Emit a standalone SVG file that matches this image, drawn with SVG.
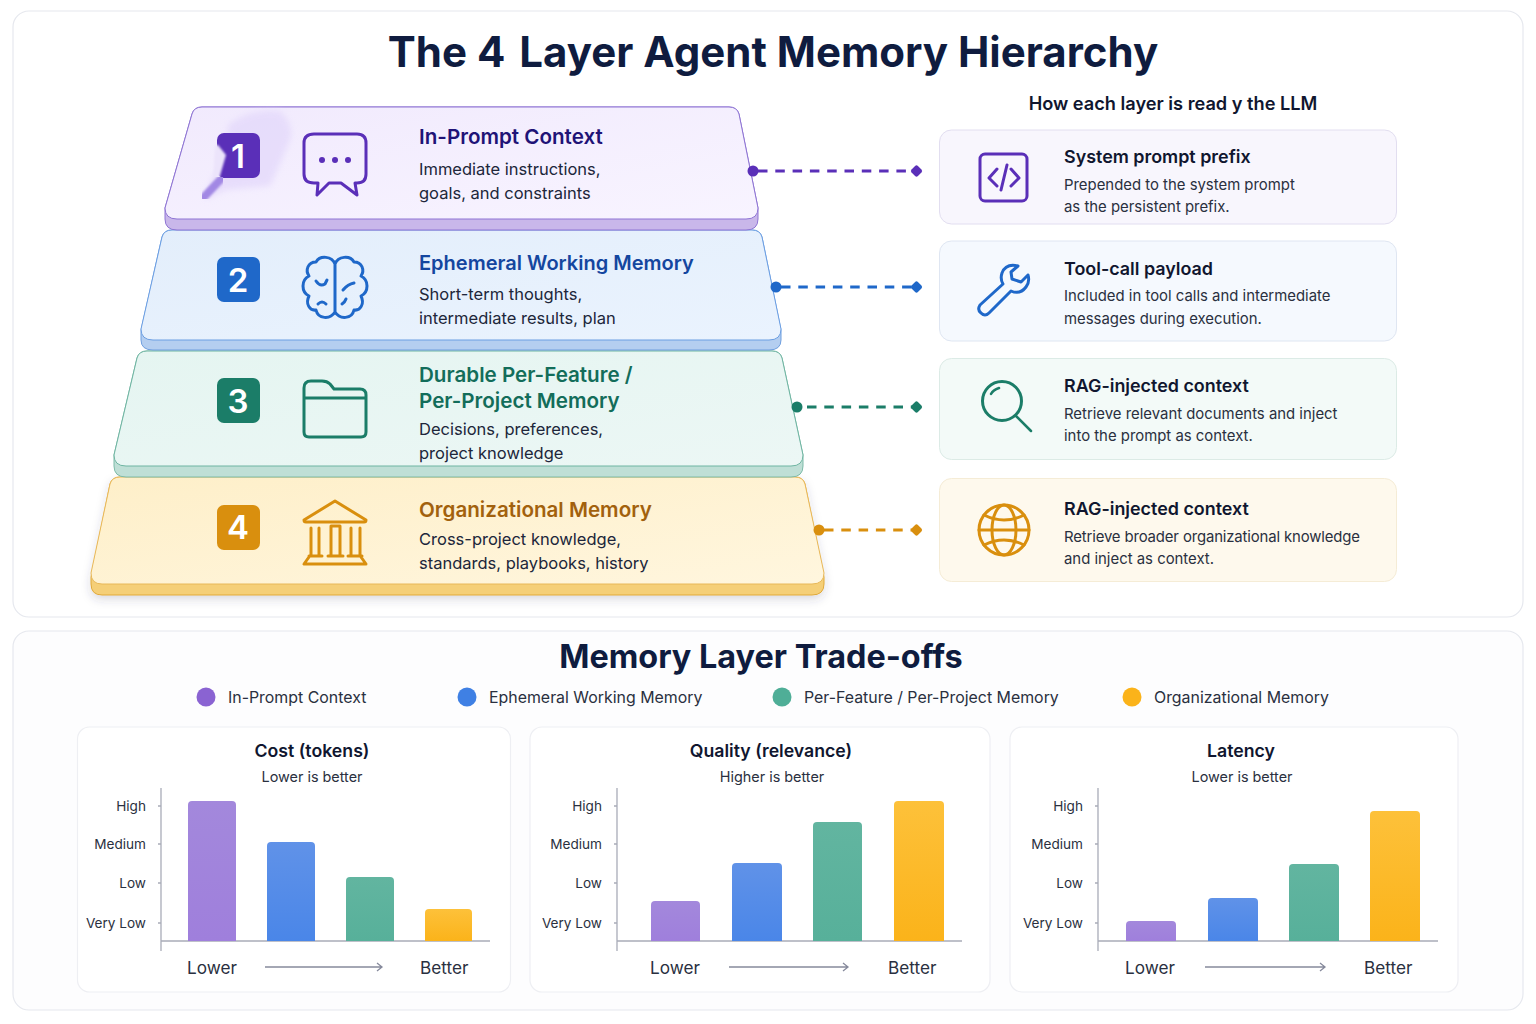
<svg xmlns="http://www.w3.org/2000/svg" width="1536" height="1024" viewBox="0 0 1536 1024">
<style>
text{font-family:Inter,"Liberation Sans",sans-serif}
.panel{fill:#fff;stroke:#e6e8ee;stroke-width:1.2}
.chart{fill:#fff;stroke:#eeeff3;stroke-width:1.2}
.h1{font-size:42px;font-weight:700;fill:#0f1c3f}
.h2{font-size:32.4px;font-weight:700;fill:#0f1c3f}
.rt{font-size:18.2px;font-weight:600;fill:#10162f}
.lt{font-size:20.6px;font-weight:600}
.ld{font-size:16.5px;fill:#20263a}
.ct{font-size:17.9px;font-weight:600;fill:#10162f}
.cd{font-size:14.9px;fill:#2a3040}
.leg{font-size:15.9px;fill:#2a3040}
.ctitle{font-size:17.7px;font-weight:600;fill:#10162f}
.sub{font-size:14.4px;fill:#2a3040}
.ax{font-size:13.6px;fill:#2a3040;text-anchor:end}
.lb{font-size:17.2px;fill:#2a3040}
.num{font-size:33px;font-weight:600;fill:#fff;text-anchor:middle}
.ic{fill:none;stroke-width:3;stroke-linecap:round;stroke-linejoin:round}
.axis{stroke:#a9acb8;stroke-width:1.3;fill:none}
.arr{stroke:#868a9c;stroke-width:1.3;fill:none}
.dash{stroke-width:3;stroke-dasharray:9.500 7.800;fill:none}
.pu{stroke:#5a2fb8}.bl{stroke:#1f68c9}.gr{stroke:#1b7d68}.or{stroke:#d98f0e}
.fpu{fill:#5a2fb8}.fbl{fill:#1f68c9}.fgr{fill:#1b7d68}.for{fill:#d98f0e}
.bpu{fill:url(#gpu)}.bbl{fill:url(#gbl)}.bgr{fill:url(#ggr)}.bor{fill:url(#gor)}
</style>
<defs>
<linearGradient id="gpu" x1="0" y1="0" x2="0" y2="1"><stop offset="0" stop-color="#a388dc"/><stop offset="1" stop-color="#9f7fdc"/></linearGradient>
<linearGradient id="gbl" x1="0" y1="0" x2="0" y2="1"><stop offset="0" stop-color="#6092e8"/><stop offset="1" stop-color="#4a86e8"/></linearGradient>
<linearGradient id="ggr" x1="0" y1="0" x2="0" y2="1"><stop offset="0" stop-color="#62b5a0"/><stop offset="1" stop-color="#57b09a"/></linearGradient>
<linearGradient id="gor" x1="0" y1="0" x2="0" y2="1"><stop offset="0" stop-color="#fdc13a"/><stop offset="1" stop-color="#fbb31a"/></linearGradient>
<linearGradient id="f1" x1="0" y1="0" x2="1" y2="1"><stop offset="0" stop-color="#f1eafd"/><stop offset="1" stop-color="#f8f4ff"/></linearGradient>
<linearGradient id="f2" x1="0" y1="0" x2="1" y2="1"><stop offset="0" stop-color="#e3eefb"/><stop offset="1" stop-color="#eaf3fe"/></linearGradient>
<linearGradient id="f3" x1="0" y1="0" x2="1" y2="1"><stop offset="0" stop-color="#e5f5f1"/><stop offset="1" stop-color="#ecf7f5"/></linearGradient>
<linearGradient id="f4" x1="0" y1="0" x2="1" y2="1"><stop offset="0" stop-color="#feefc9"/><stop offset="1" stop-color="#fff6de"/></linearGradient>
<filter id="sh" x="-5%" y="-10%" width="110%" height="125%"><feDropShadow dx="0" dy="4" stdDeviation="5" flood-color="#3a3a5a" flood-opacity=".18"/></filter>
<filter id="bl"><feGaussianBlur stdDeviation="3"/></filter>
<filter id="bl1"><feGaussianBlur stdDeviation=".8"/></filter>
</defs>
<rect class="panel" x="13" y="11" width="1510" height="606" rx="16"/>
<rect class="panel" x="13" y="631" width="1510" height="379" rx="16" style="fill:#fdfdfe"/>
<text id="title" class="h1" x="773" y="67" text-anchor="middle">The 4<tspan dx="4"> Layer Agent Memory Hierarchy</tspan></text>
<text class="rt" x="1173" y="110" text-anchor="middle">How each layer is read y the LLM</text>

<g id="layer4">
<path d="M110 484Q112 477 120 477H795Q803 477 805 484L824 577V584Q824 595 812 595H102Q91 595 91 584V577Z" fill="#f5cf78" stroke="#e0a93a" filter="url(#sh)"/>
<path d="M110 484Q112 477 120 477H795Q803 477 805 484L824 573Q824 584 812 584H102Q91 584 91 573Z" fill="url(#f4)" stroke="#e8b859"/>
<rect x="217" y="505" width="43" height="45" rx="7" fill="#d98f0e"/>
<text class="num" x="238" y="539">4</text>
<g class="ic or" stroke-width="2.800"><path d="M304 520 335 501 366 520Q366 522 364 522H306Q304 522 304 520Z"/><path d="M311 528V555M319 528V555M331 555V526H340V555M351 528V555M360 528V555M309 556H322M328 556H343M348 556H362M309 557 304 564H366L361 557"/></g>
<text class="lt" x="419" y="517" fill="#a2610d">Organizational Memory</text>
<text class="ld" x="419" y="545">Cross-project knowledge,</text>
<text class="ld" x="419" y="569">standards, playbooks, history</text>
</g>

<g id="layer3">
<path d="M137 358Q139 351 147 351H772Q780 351 782 358L803 455V466Q803 477 791 477H126Q114 477 114 466V455Z" fill="#bfdfd6" stroke="#7dbba9"/>
<path d="M137 358Q139 351 147 351H772Q780 351 782 358L803 455Q803 466 791 466H126Q114 466 114 455Z" fill="url(#f3)" stroke="#6fb5a2"/>
<rect x="217" y="378" width="43" height="45" rx="7" fill="#1b7d68"/>
<text class="num" x="238" y="413">3</text>
<g class="ic gr"><path d="M304 388Q304 381 311 381H322Q327 381 330 384L334 389H360Q366 389 366 395V432Q366 437 361 437H309Q304 437 304 432ZM304 398H366"/></g>
<text class="lt" x="419" y="382" fill="#136d5a">Durable Per-Feature /</text>
<text class="lt" x="419" y="408" fill="#136d5a">Per-Project Memory</text>
<text class="ld" x="419" y="435">Decisions, preferences,</text>
<text class="ld" x="419" y="459">project knowledge</text>
</g>

<g id="layer2">
<path d="M162 237Q164 230 172 230H752Q760 230 762 237L781 330V340Q781 350 769 350H153Q141 350 141 340V330Z" fill="#b4cef0" stroke="#6f9fdf"/>
<path d="M162 237Q164 230 172 230H752Q760 230 762 237L781 329Q781 340 769 340H153Q141 340 141 329Z" fill="url(#f2)" stroke="#6b9ee2"/>
<rect x="217" y="257" width="43" height="45" rx="7" fill="#1f68c9"/>
<text class="num" x="238" y="292">2</text>
<g class="ic bl" stroke-width="2.800"><path d="M335 264C332 256 320 255 316 262C308 262 305 270 309 276C301 280 301 292 309 296C305 304 310 311 316 310C318 319 330 320 335 312V264C338 256 350 255 354 262C362 262 365 270 361 276C369 280 369 292 361 296C365 304 360 311 354 310C352 319 340 320 335 312"/><path d="M316 281Q320 287 325 284L327 280M318 304Q322 300 326 304M343 290Q348 284 354 283M346 299Q345 302 342 304"/></g>
<text class="lt" x="419" y="270" style="font-size:20px" fill="#14469f">Ephemeral Working Memory</text>
<text class="ld" x="419" y="300">Short-term thoughts,</text>
<text class="ld" x="419" y="324">intermediate results, plan</text>
</g>

<g id="layer1">
<path d="M192 114Q194 107 202 107H729Q737 107 739 114L758 208V219Q758 230 746 230H177Q165 230 165 219V208Z" fill="#c9b7ea" stroke="#8f75d4"/>
<path d="M192 114Q194 107 202 107H729Q737 107 739 114L758 208Q758 219 746 219H177Q165 219 165 208Z" fill="url(#f1)" stroke="#8f75d4"/>
<path d="M228 125Q250 108 280 111Q295 125 290 140Q280 165 270 186L225 190L205 200Q210 175 225 165Z" fill="#e3d8fb" opacity=".75" filter="url(#bl)"/>
<rect x="217" y="133" width="43" height="45" rx="7" fill="#5a2fb8"/>
<path d="M215 145 218 145 226 155 219 179 213 180Z" fill="#ece4fb" filter="url(#bl1)"/>
<path d="M221 179 204 197" stroke="#a288e4" stroke-width="8" stroke-linecap="round" fill="none" filter="url(#bl1)"/>
<text class="num" x="238" y="168">1</text>
<g class="ic pu"><path d="M314 134H357Q366 134 366 143V174Q366 183 357 183H355L357 195 341 183H329L317 195 318 183H314Q304 183 304 174V143Q304 134 314 134Z"/></g>
<g class="fpu"><circle cx="322" cy="160" r="3"/><circle cx="335" cy="160" r="3"/><circle cx="348" cy="160" r="3"/></g>
<text class="lt" x="419" y="144" fill="#1f1377">In-Prompt Context</text>
<text class="ld" x="419" y="175">Immediate instructions,</text>
<text class="ld" x="419" y="199">goals, and constraints</text>
</g>

<g id="connectors">
<path class="dash pu" d="M758 171H912"/><circle class="fpu" cx="753" cy="171" r="5.500"/><rect class="fpu" x="912" y="166.500" width="9" height="9" rx="2" transform="rotate(45 916.500 171)"/>
<path class="dash bl" d="M781 287H912"/><circle class="fbl" cx="776" cy="287" r="5.500"/><rect class="fbl" x="912" y="282.500" width="9" height="9" rx="2" transform="rotate(45 916.500 287)"/>
<path class="dash gr" d="M807 407H912"/><circle class="fgr" cx="797" cy="407" r="5.500"/><rect class="fgr" x="912" y="402.500" width="9" height="9" rx="2" transform="rotate(45 916.500 407)"/>
<path class="dash or" d="M824 530H912"/><circle class="for" cx="819" cy="530" r="5.500"/><rect class="for" x="912" y="525.500" width="9" height="9" rx="2" transform="rotate(45 916.500 530)"/>
</g>

<g id="read1"><rect x="939.500" y="130" width="457" height="94" rx="12" fill="#f8f6fd" stroke="#e2def0"/>
<g class="ic pu" stroke-width="2.600"><rect x="980" y="154" width="47" height="47" rx="5"/><path d="M997 169 989 178 997 186M1011 169 1019 178 1011 186M1007 165 1001 190"/></g>
<text class="ct" x="1064" y="163">System prompt prefix</text><text class="cd" x="1064" y="190">Prepended to the system prompt</text><text class="cd" x="1064" y="212">as the persistent prefix.</text></g>
<g id="read2"><rect x="939.500" y="241" width="457" height="100" rx="12" fill="#f5f9fe" stroke="#dfe6f2"/>
<g class="ic bl"><path d="M1018 266Q1006 263 1002 273Q1000 279 1003 284L980 305Q977 310 981 313Q985 317 989 313L1011 291Q1020 295 1026 287Q1030 282 1028 275L1021 282 1012 279 1011 272Z"/></g>
<text class="ct" x="1064" y="275">Tool-call payload</text><text class="cd" x="1064" y="301">Included in tool calls and intermediate</text><text class="cd" x="1064" y="324">messages during execution.</text></g>
<g id="read3"><rect x="939.500" y="358.500" width="457" height="101" rx="12" fill="#f3faf8" stroke="#dcebe6"/>
<g class="ic gr"><circle cx="1002" cy="401" r="19.500"/><path d="M1016 416 1031 431M991 394Q993 390 999 388" stroke-width="2.500"/></g>
<text class="ct" x="1064" y="392">RAG-injected context</text><text class="cd" x="1064" y="419">Retrieve relevant documents and inject</text><text class="cd" x="1064" y="441">into the prompt as context.</text></g>
<g id="read4"><rect x="939.500" y="478.500" width="457" height="103" rx="12" fill="#fef9ed" stroke="#f5ecd6"/>
<g class="ic or"><circle cx="1004" cy="530" r="25"/><ellipse cx="1004" cy="530" rx="12" ry="25"/><path d="M979 530H1029M984 515Q1004 525 1024 515M984 545Q1004 535 1024 545"/></g>
<text class="ct" x="1064" y="515">RAG-injected context</text><text class="cd" x="1064" y="542" textLength="296">Retrieve broader organizational knowledge</text><text class="cd" x="1064" y="564">and inject as context.</text></g>

<text class="h2" x="761" y="668" text-anchor="middle" id="title2">Memory Layer Trade-offs</text>
<g id="legend">
<circle cx="206" cy="697" r="9.500" fill="#8a63d2"/><text class="leg" x="228" y="703">In-Prompt Context</text>
<circle cx="467" cy="697" r="9.500" fill="#3f80e4"/><text class="leg" x="489" y="703">Ephemeral Working Memory</text>
<circle cx="782" cy="697" r="9.500" fill="#4fae97"/><text class="leg" x="804" y="703">Per-Feature / Per-Project Memory</text>
<circle cx="1132" cy="697" r="9.500" fill="#fbb31a"/><text class="leg" x="1154" y="703">Organizational Memory</text>
</g>

<g id="chart-cost">
<rect class="chart" x="77.500" y="727" width="433" height="265" rx="12"/>
<text class="ctitle" x="312" y="757" text-anchor="middle">Cost (tokens)</text><text class="sub" x="312" y="782" text-anchor="middle">Lower is better</text>
<text class="ax" x="146" y="811">High</text><text class="ax" x="146" y="849">Medium</text><text class="ax" x="146" y="888">Low</text><text class="ax" x="146" y="928">Very Low</text>
<path class="axis" d="M161 788V951M161 941H490M158 806H161M158 844H161M158 883H161M158 923H161"/>
<path class="bpu" d="M188 941V805Q188 801 192 801H232Q236 801 236 805V941Z"/><path class="bbl" d="M267 941V846Q267 842 271 842H311Q315 842 315 846V941Z"/><path class="bgr" d="M346 941V881Q346 877 350 877H390Q394 877 394 881V941Z"/><path class="bor" d="M425 941V913Q425 909 429 909H468Q472 909 472 913V941Z"/>
<text class="lb" x="187" y="974">Lower</text><path class="arr" d="M265 967H382M377 963 382 967 377 971"/><text class="lb" x="420" y="974">Better</text>
</g>
<g id="chart-quality">
<rect class="chart" x="530" y="727" width="460" height="265" rx="12"/>
<text class="ctitle" x="771" y="757" text-anchor="middle">Quality (relevance)</text><text class="sub" x="772" y="782" text-anchor="middle">Higher is better</text>
<text class="ax" x="602" y="811">High</text><text class="ax" x="602" y="849">Medium</text><text class="ax" x="602" y="888">Low</text><text class="ax" x="602" y="928">Very Low</text>
<path class="axis" d="M617 788V951M617 941H962M614 806H617M614 844H617M614 883H617M614 923H617"/>
<path class="bpu" d="M651 941V905Q651 901 655 901H696Q700 901 700 905V941Z"/><path class="bbl" d="M732 941V867Q732 863 736 863H778Q782 863 782 867V941Z"/><path class="bgr" d="M813 941V826Q813 822 817 822H858Q862 822 862 826V941Z"/><path class="bor" d="M894 941V805Q894 801 898 801H940Q944 801 944 805V941Z"/>
<text class="lb" x="650" y="974">Lower</text><path class="arr" d="M729 967H848M843 963 848 967 843 971"/><text class="lb" x="888" y="974">Better</text>
</g>
<g id="chart-latency">
<rect class="chart" x="1010" y="727" width="448" height="265" rx="12"/>
<text class="ctitle" x="1241" y="757" text-anchor="middle">Latency</text><text class="sub" x="1242" y="782" text-anchor="middle">Lower is better</text>
<text class="ax" x="1083" y="811">High</text><text class="ax" x="1083" y="849">Medium</text><text class="ax" x="1083" y="888">Low</text><text class="ax" x="1083" y="928">Very Low</text>
<path class="axis" d="M1098 788V951M1098 941H1438M1095 806H1098M1095 844H1098M1095 883H1098M1095 923H1098"/>
<path class="bpu" d="M1126 941V925Q1126 921 1130 921H1172Q1176 921 1176 925V941Z"/><path class="bbl" d="M1208 941V902Q1208 898 1212 898H1254Q1258 898 1258 902V941Z"/><path class="bgr" d="M1289 941V868Q1289 864 1293 864H1335Q1339 864 1339 868V941Z"/><path class="bor" d="M1370 941V815Q1370 811 1374 811H1416Q1420 811 1420 815V941Z"/>
<text class="lb" x="1125" y="974">Lower</text><path class="arr" d="M1205 967H1325M1320 963 1325 967 1320 971"/><text class="lb" x="1364" y="974">Better</text>
</g>
</svg>
